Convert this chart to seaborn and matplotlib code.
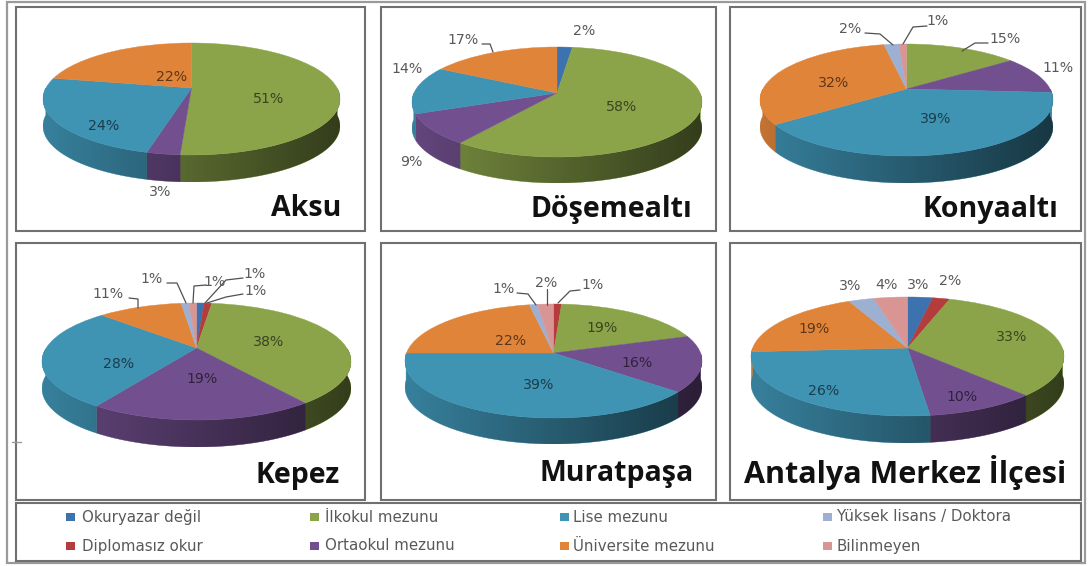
import numpy as np
import matplotlib
matplotlib.use("Agg")
import matplotlib.pyplot as plt
import seaborn as sns
from matplotlib.patches import Polygon, Rectangle
from matplotlib.transforms import Transform

W, H = 1088, 566

# data: one value per category, clockwise from 12 o'clock
categories = ["Okuryazar değil", "Diplomasız okur", "İlkokul mezunu", "Ortaokul mezunu",
              "Lise mezunu", "Üniversite mezunu", "Yüksek lisans / Doktora", "Bilinmeyen"]
aksu = [0, 0, 51, 3, 24, 22, 0, 0]
dosemealti = [2, 0, 58, 9, 14, 17, 0, 0]
konyaalti = [0, 0, 15, 11, 39, 32, 2, 1]
kepez = [1, 1, 38, 19, 28, 11, 1, 1]
muratpasa = [0, 1, 19, 16, 39, 22, 1, 2]
merkez = [3, 2, 33, 10, 26, 19, 3, 4]
titles = ["Aksu", "Döşemealtı", "Konyaaltı", "Kepez", "Muratpaşa", "Antalya Merkez İlçesi"]
series = [aksu, dosemealti, konyaalti, kepez, muratpasa, merkez]

palette = sns.color_palette(["#3C73AE", "#B43C3C", "#8BA44A", "#72508F",
                             "#3F93B3", "#E0843A", "#9DB0D2", "#D99594"])

# layout, all in image pixels
panel_boxes = [(16, 7, 365, 231), (381, 7, 716, 231), (730, 7, 1081, 231),
               (16, 243, 365, 500), (381, 243, 716, 500), (730, 243, 1081, 500)]
# x left, x right, top, front of the top face, bottom of the side, apex y
pie_boxes = [(43, 340, 43, 155, 182, 88), (412, 702, 47, 157, 183, 93),
             (760, 1053, 44, 156, 183, 89), (42, 351, 303, 420, 447, 348),
             (405, 702, 304, 418, 444, 353), (751, 1064, 297, 416, 443, 348)]
title_pos = [(341, 209), (692, 210), (1058, 210), (340, 475), (694, 473), (1066, 472)]
title_size = [20.5, 20.5, 20.5, 20.5, 20.5, 22]
# label centres, for the non zero categories in order
label_pos = [
    [(269, 99), (160, 192), (104, 126), (172, 77)],
    [(584, 31), (622, 107), (411, 162), (407, 69), (463, 40)],
    [(1005, 39), (1058, 68), (936, 119), (834, 83), (850, 29), (938, 21)],
    [(255, 274), (256, 291), (269, 342), (202, 379), (119, 364), (108, 294), (152, 279), (215, 282)],
    [(593, 285), (602, 328), (637, 363), (539, 385), (511, 341), (504, 289), (546, 283)],
    [(918, 285), (950, 281), (1012, 337), (962, 397), (824, 391), (814, 329), (850, 286), (886, 285)],
]
leaders = [
    [(482, 44), (490, 44), (493, 52)],
    [(865, 33), (880, 34), (893, 45)], [(927, 26), (913, 27), (903, 44)], [(988, 43), (975, 43), (962, 51)],
    [(167, 283), (177, 283), (186, 303)], [(129, 298), (138, 299), (138, 308)],
    [(206, 285), (194, 286), (193, 303)], [(243, 278), (226, 280), (205, 303)],
    [(243, 294), (226, 297), (207, 303)],
    [(517, 293), (528, 294), (536, 305)], [(547, 289), (547, 305)], [(580, 290), (570, 291), (558, 303)],
]
legend_swatch_x = [66, 66, 310, 310, 560, 560, 823, 823]
legend_text_x = [82, 82, 325, 325, 573, 573, 837, 837]
legend_y = [517, 546, 517, 546, 517, 546, 517, 546]
legend_order = [0, 1, 2, 3, 4, 5, 6, 7]


class Tilt(Transform):
    # projective map of the unit disc onto itself, moves the apex up like the 3D view
    input_dims = output_dims = 2

    def __init__(self, a):
        super().__init__()
        self.a = a

    def transform_non_affine(self, xy):
        xy = np.asarray(xy)
        d = 1 + self.a * xy[:, 1]
        return np.c_[xy[:, 0] * np.sqrt(1 - self.a ** 2) / d, (xy[:, 1] + self.a) / d]


sns.set_theme(style="white")
plt.rcParams["font.family"] = ["DejaVu Sans"]
fig = plt.figure(figsize=(W / 100, H / 100), dpi=100, facecolor="white")

for values, (x0, x1, top, front, bottom, apex) in zip(series, pie_boxes):
    ax = fig.add_axes([x0 / W, 1 - bottom / H, (x1 - x0) / W, (bottom - top) / H])
    keep = [i for i, v in enumerate(values) if v > 0]
    wedges, _ = ax.pie([values[i] for i in keep], colors=[palette[i] for i in keep],
                       startangle=90, counterclock=False,
                       wedgeprops={"zorder": 3, "linewidth": 0.3})
    ry = (front - top) / 2
    depth = (bottom - front) / ry
    tilt = Tilt(((top + front) / 2 - apex) / ry)
    for w, i in zip(wedges, keep):
        w.set_transform(tilt + ax.transData)
        w.set_edgecolor(palette[i])
        t = np.radians(np.linspace(w.theta1, w.theta2, 120))
        t = t[np.sin(t) <= 0]
        if len(t) > 1:
            p = tilt.transform(np.c_[np.cos(t), np.sin(t)])
            ax.fill(np.r_[p[:, 0], p[::-1, 0]], np.r_[p[:, 1], p[::-1, 1] - depth],
                    color=palette[i], lw=0.3, zorder=1)
    # side shading goes darker to the right
    shade = np.zeros((1, 256, 4))
    shade[0, :, 3] = np.linspace(0.13, 0.63, 256)
    im = ax.imshow(shade, extent=[-1, 1, -1 - depth, 1], aspect="auto", zorder=2)
    t = np.radians(np.linspace(180, 360, 200))
    p = tilt.transform(np.c_[np.cos(t), np.sin(t)])
    band = Polygon(np.r_[p, p[::-1] - [0, depth]], transform=ax.transData)
    im.set_clip_path(band)
    ax.set_aspect("auto")
    ax.set_xlim(-1, 1)
    ax.set_ylim(-1 - depth, 1)
    ax.axis("off")

# overlay in pixel coordinates for the frames and the text
over = fig.add_axes([0, 0, 1, 1], facecolor="none")
over.set_xlim(0, W)
over.set_ylim(H, 0)
over.axis("off")

over.add_patch(Rectangle((7, 2), 1078, 561, fill=False, ec="#9a9a9a", lw=1.6))
over.plot([12, 21], [442, 442], color="#9a9a9a", lw=1)
for x0, y0, x1, y1 in panel_boxes + [(16, 503, 1081, 561)]:
    over.add_patch(Rectangle((x0, y0), x1 - x0, y1 - y0, fill=False, ec="#707070", lw=1.5))

for name, (x, y), size in zip(titles, title_pos, title_size):
    over.text(x, y, name, ha="right", va="center", family="Open Sans", weight="bold",
              fontsize=size, color="#111111")

for values, box, pos in zip(series, pie_boxes, label_pos):
    cx, cy = (box[0] + box[1]) / 2, (box[2] + box[3]) / 2
    rx, ry = (box[1] - box[0]) / 2, (box[3] - box[2]) / 2
    keep = [i for i, v in enumerate(values) if v > 0]
    for i, (x, y) in zip(keep, pos):
        inside = ((x - cx) / rx) ** 2 + ((y - cy) / ry) ** 2 < 1
        color = tuple(c * 0.42 for c in palette[i]) if inside else "#595959"
        over.text(x, y, f"{values[i]}%", ha="center", va="center", fontsize=10.2, color=color)

for line in leaders:
    over.plot(*zip(*line), color="#505050", lw=0.9)

for i, sx, tx, y in zip(legend_order, legend_swatch_x, legend_text_x, legend_y):
    over.add_patch(Rectangle((sx, y - 4), 9, 8, fc=palette[i], ec="none"))
    over.text(tx, y, categories[i], ha="left", va="center", fontsize=10.8, color="#595959")

fig.savefig("out.png", dpi=100)
